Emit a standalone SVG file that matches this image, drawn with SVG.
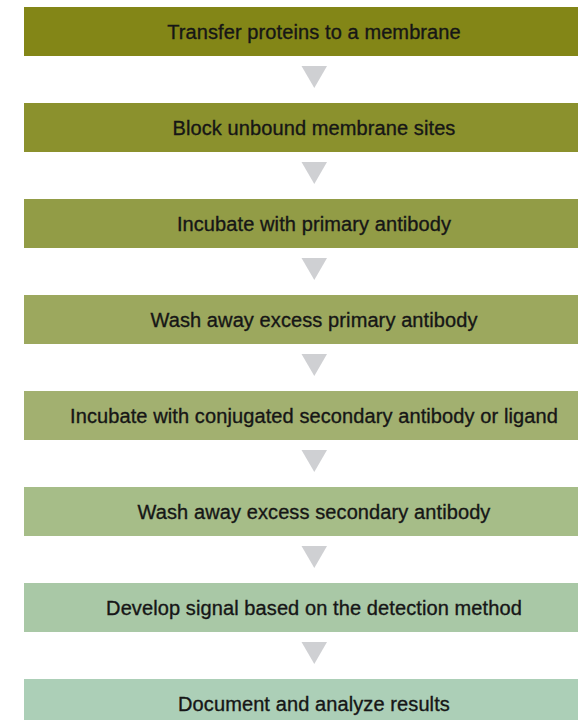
<svg xmlns="http://www.w3.org/2000/svg" width="578" height="720" viewBox="0 0 578 720">
<style>
.lbl{font-family:"Liberation Sans",Arial,Helvetica,sans-serif;font-size:20px;letter-spacing:0.1px;fill:#161616;stroke:#161616;stroke-width:0.35;text-anchor:middle}
.arr{fill:#cfd0d3}
</style>
<rect width="578" height="720" fill="#ffffff"/>
<g id="connectors">
<polygon class="arr" points="301.5,66 327,66 314.3,88"/>
<polygon class="arr" points="301.5,162 327,162 314.3,184"/>
<polygon class="arr" points="301.5,258 327,258 314.3,280"/>
<polygon class="arr" points="301.5,354 327,354 314.3,376"/>
<polygon class="arr" points="301.5,450 327,450 314.3,472"/>
<polygon class="arr" points="301.5,546 327,546 314.3,568"/>
<polygon class="arr" points="301.5,642 327,642 314.3,664"/>
</g>
<g id="step1"><rect x="24" y="7" width="554" height="49" fill="#838617"/><text class="lbl" x="314" y="38.5">Transfer proteins to a membrane</text></g>
<g id="step2"><rect x="24" y="103" width="554" height="49" fill="#8b912d"/><text class="lbl" x="314" y="134.5">Block unbound membrane sites</text></g>
<g id="step3"><rect x="24" y="199" width="554" height="49" fill="#929c46"/><text class="lbl" x="314" y="230.5">Incubate with primary antibody</text></g>
<g id="step4"><rect x="24" y="295" width="554" height="49" fill="#9ca85e"/><text class="lbl" x="314" y="326.5">Wash away excess primary antibody</text></g>
<g id="step5"><rect x="24" y="391" width="554" height="49" fill="#a2b070"/><text class="lbl" x="314" y="422.5">Incubate with conjugated secondary antibody or ligand</text></g>
<g id="step6"><rect x="24" y="487" width="554" height="49" fill="#a6bd88"/><text class="lbl" x="314" y="518.5">Wash away excess secondary antibody</text></g>
<g id="step7"><rect x="24" y="583" width="554" height="49" fill="#a9c8a6"/><text class="lbl" x="314" y="614.5">Develop signal based on the detection method</text></g>
<g id="step8"><rect x="24" y="679" width="554" height="49" fill="#accfb7"/><text class="lbl" x="314" y="710.5">Document and analyze results</text></g>
</svg>
